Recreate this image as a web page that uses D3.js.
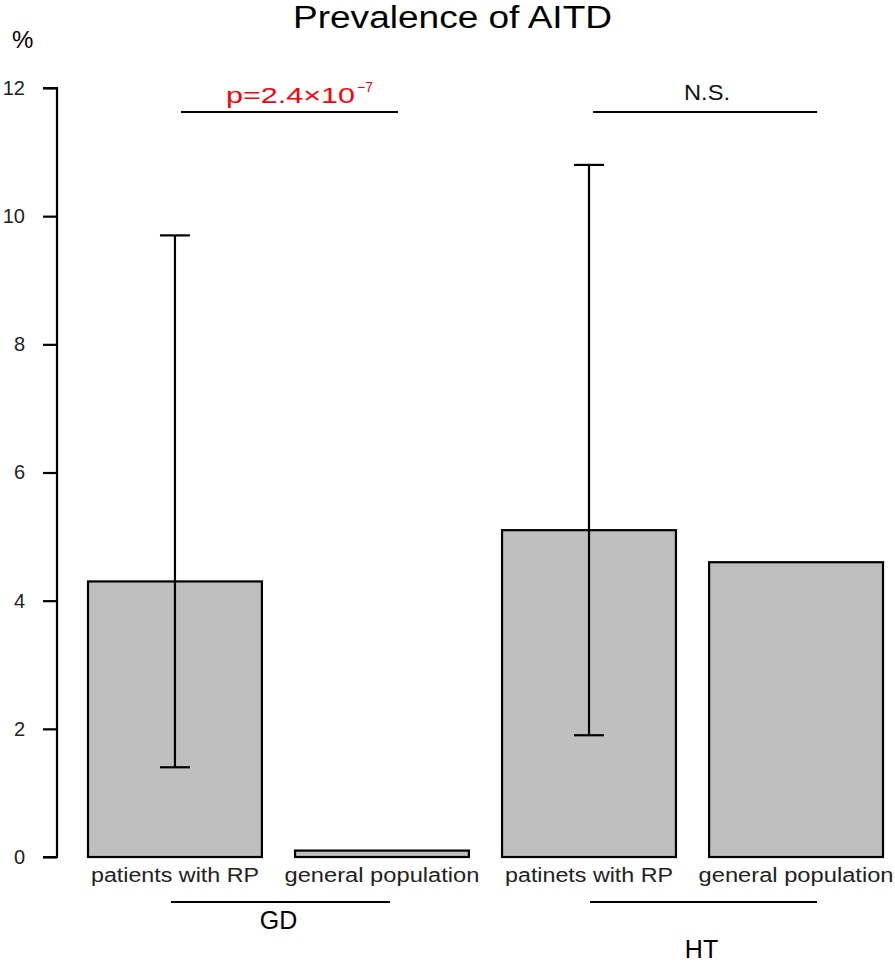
<!DOCTYPE html>
<html>
<head>
<meta charset="utf-8">
<script src="https://cdn.jsdelivr.net/npm/d3@7"></script>
<style>
  html, body { margin: 0; padding: 0; background: #fff; }
  svg { display: block; font-family: "Liberation Sans", Arial, sans-serif; }
</style>
</head>
<body>
<svg id="chart" width="895" height="963"></svg>
<script>
// ---- data ----
const categories = ["patients with RP", "general population", "patinets with RP", "general population "];
const groups = ["GD", "HT"];
const values = [4.3, 0.1, 5.1, 4.6];
const errLow = [1.4, null, 1.9, null];
const errHigh = [9.7, null, 10.8, null];
const yTicks = [0, 2, 4, 6, 8, 10, 12];
const sigLabels = ["p=2.4\u00D710", "N.S."];
const sigExponent = ["\u22127", null];

const svg = d3.select("#chart");

const y = d3.scaleLinear().domain([0, 12]).range([857, 88]);
const x = d3.scaleBand().domain(categories).range([88, 883]).paddingInner(0.16).paddingOuter(0);
const bw = x.bandwidth();

// title
svg.append("text").attr("x", 293).attr("y", 28)
  .attr("font-size", 31).attr("fill", "#000")
  .attr("textLength", 319).attr("lengthAdjust", "spacingAndGlyphs")
  .text("Prevalence of AITD");

// % label
svg.append("text").attr("x", 12).attr("y", 48)
  .attr("font-size", 24).attr("fill", "#000").text("%");

// y axis
const yAxis = d3.axisLeft(y).tickValues(yTicks).tickSize(14).tickPadding(18).tickFormat(d3.format("d"));
const ga = svg.append("g").attr("transform", "translate(57,0)").call(yAxis);
ga.select(".domain").attr("stroke", "#000").attr("stroke-width", 2.2)
  .attr("d", `M-14,${y(12)}H0V${y(0)}H-14`);
ga.selectAll(".tick line").attr("stroke", "#000").attr("stroke-width", 2.2);
ga.selectAll(".tick text").attr("font-size", 20).attr("fill", "#222")
  .attr("font-family", "'Liberation Sans', Arial, sans-serif");

// bars
svg.append("g").selectAll("rect").data(values).join("rect")
  .attr("x", (d, i) => x(categories[i]))
  .attr("y", d => y(d))
  .attr("width", bw)
  .attr("height", d => y(0) - y(d))
  .attr("fill", "#bfbfbf")
  .attr("stroke", "#000")
  .attr("stroke-width", 2.2);

// error bars
const eg = svg.append("g").attr("stroke", "#000").attr("stroke-width", 2.2);
values.forEach((v, i) => {
  if (errLow[i] == null) return;
  const cx = x(categories[i]) + bw / 2;
  eg.append("line").attr("x1", cx).attr("x2", cx).attr("y1", y(errLow[i])).attr("y2", y(errHigh[i]));
  eg.append("line").attr("x1", cx - 15).attr("x2", cx + 15).attr("y1", y(errLow[i])).attr("y2", y(errLow[i]));
  eg.append("line").attr("x1", cx - 15).attr("x2", cx + 15).attr("y1", y(errHigh[i])).attr("y2", y(errHigh[i]));
});

// category labels
svg.append("g").selectAll("text").data(categories).join("text")
  .attr("x", d => x(d) + bw / 2)
  .attr("y", 882)
  .attr("text-anchor", "middle")
  .attr("font-size", 20)
  .attr("fill", "#222")
  .attr("textLength", (d, i) => (i % 2 === 0 ? 168 : 195))
  .attr("lengthAdjust", "spacingAndGlyphs")
  .text(d => d.trim());

// group lines + labels
const groupBase = [929, 958];
groups.forEach((g, gi) => {
  const c1 = x(categories[gi * 2]) + bw / 2;
  const c2 = x(categories[gi * 2 + 1]) + bw / 2;
  const x1 = c1 - 4 + gi * 5, x2 = c2 + 8 + gi * 13;
  svg.append("line").attr("x1", x1).attr("x2", x2).attr("y1", 902).attr("y2", 902)
    .attr("stroke", "#000").attr("stroke-width", 2.2);
  svg.append("text").attr("x", (x1 + x2) / 2 - 2).attr("y", groupBase[gi])
    .attr("text-anchor", "middle").attr("font-size", 25).attr("fill", "#000").text(g);
});

// significance brackets
groups.forEach((g, gi) => {
  const c1 = x(categories[gi * 2]) + bw / 2;
  const c2 = x(categories[gi * 2 + 1]) + bw / 2;
  const x1 = c1 + 6 - gi * 2, x2 = c2 + 16 + gi * 5;
  svg.append("line").attr("x1", x1).attr("x2", x2).attr("y1", 112).attr("y2", 112)
    .attr("stroke", "#000").attr("stroke-width", 2.2);
  if (sigExponent[gi]) {
    svg.append("text").attr("x", x1 + 45).attr("y", 103)
      .attr("font-size", 22).attr("fill", "#ff0000")
      .attr("textLength", 129).attr("lengthAdjust", "spacingAndGlyphs")
      .text(sigLabels[gi]);
    svg.append("text").attr("x", x1 + 176).attr("y", 92)
      .attr("font-size", 14).attr("fill", "#ff0000").text(sigExponent[gi]);
  } else {
    svg.append("text").attr("x", x1 + 91).attr("y", 100)
      .attr("font-size", 22).attr("fill", "#111")
      .attr("textLength", 46).attr("lengthAdjust", "spacingAndGlyphs")
      .text(sigLabels[gi]);
  }
});
</script>
</body>
</html>
